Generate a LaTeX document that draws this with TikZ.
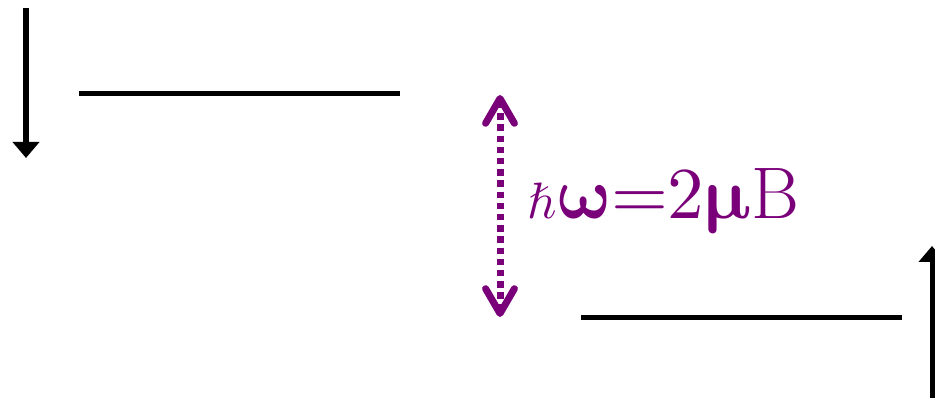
\documentclass[tikz,border=0pt]{standalone}
\usepackage{unicode-math}
\setmathfont{Latin Modern Math}
\usetikzlibrary{arrows.meta}
\definecolor{mypurple}{HTML}{7A007A}
\tikzset{
  level/.style={line width=0.125cm, black},
  spinarrow/.style={line width=0.125cm, black, -{Triangle[length=0.4cm,width=0.65cm]}},
  gaparrow/.style={line width=0.175cm, mypurple, dash pattern=on 0.16cm off 0.12cm,
    {Straight Barb[length=0.62cm,width=0.72cm,line cap=round,line join=round]}-{Straight Barb[length=0.62cm,width=0.72cm,line cap=round,line join=round]}},
}
\begin{document}
\begin{tikzpicture}[x=0.025cm,y=-0.025cm]
\useasboundingbox (0,0) rectangle (935,398);
% spin-down arrow
\coordinate (dstart) at (26,8);
\coordinate (dend) at (26,158);
\draw[spinarrow] (dstart) -- (dend);
% upper level
\coordinate (ul) at (79,94);
\coordinate (ur) at (400,94);
\draw[level] (ul) -- (ur);
% lower level
\coordinate (ll) at (581,318);
\coordinate (lr) at (902,318);
\draw[level] (ll) -- (lr);
% spin-up arrow
\coordinate (ustart) at (932,398);
\coordinate (uend) at (932,246);
\draw[spinarrow] (ustart) -- (uend);
% transition arrow
\coordinate (ttop) at (500,95);
\coordinate (tbot) at (500,317);
\draw[gaparrow] (ttop) -- (tbot);
\node[anchor=base west, inner sep=0, text=mypurple, font=\fontsize{52}{56}\selectfont] (lbl) at (527,219) {${\scriptstyle\hbar}\symbfup{\omega}{=}2\symbfup{\mu}\mathrm{B}$};
\end{tikzpicture}
\end{document}
